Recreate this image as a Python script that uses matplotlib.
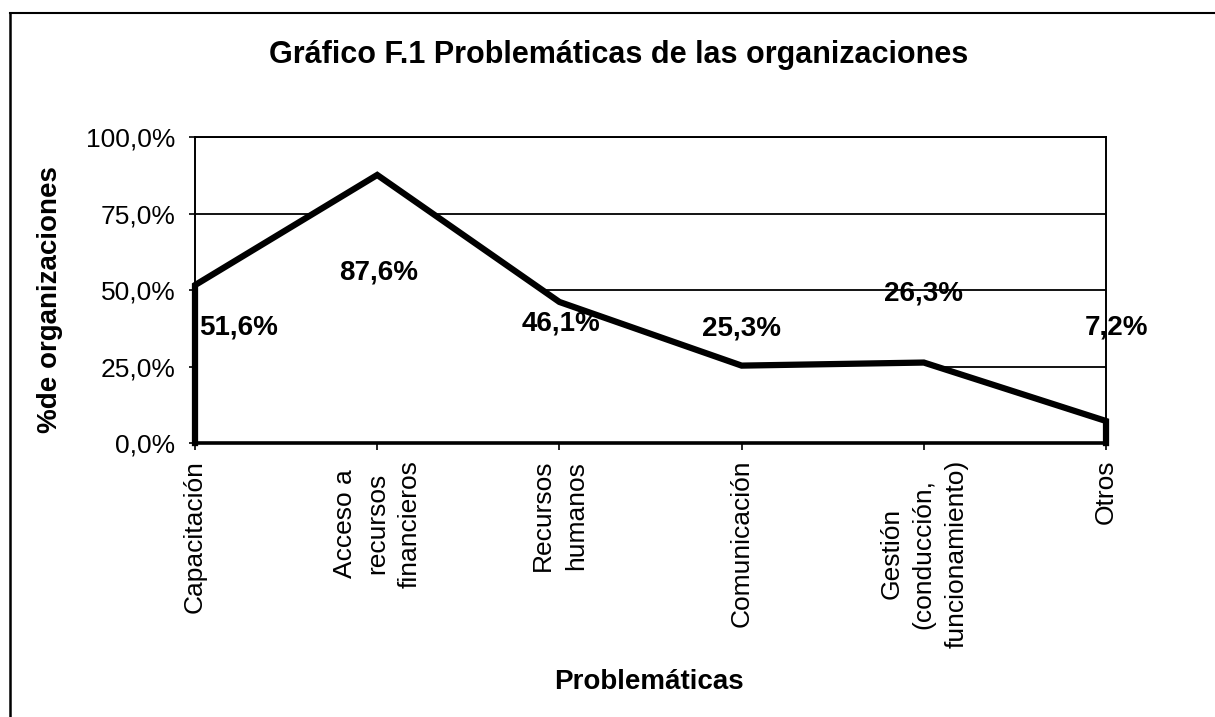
import matplotlib.pyplot as plt
import numpy as np
from matplotlib.lines import Line2D
from matplotlib.ticker import FuncFormatter

plt.rcParams['font.family'] = ['Liberation Sans', 'DejaVu Sans']

categorias = ['Capacitación', 'Acceso a\nrecursos\nfinancieros', 'Recursos\nhumanos',
              'Comunicación', 'Gestión\n(conducción,\nfuncionamiento)', 'Otros']
valores = [51.6, 87.6, 46.1, 25.3, 26.3, 7.2]
etiquetas = ['51,6%', '87,6%', '46,1%', '25,3%', '26,3%', '7,2%']
# where the labels sit in the original (x in category units, y in %)
pos_etiquetas = [(0.24, 37.6), (1.01, 55.6), (2.01, 39.2), (3.0, 37.3), (4.0, 49.0), (5.06, 37.6)]

fig = plt.figure(figsize=(12.15, 7.17), dpi=100)
ax = fig.add_axes([0.1605, 0.3821, 0.7498, 0.4268])

x = np.arange(len(valores))
ax.fill_between(x, valores, 0, facecolor='white', edgecolor='none', zorder=2)
# outline of the area: up the left edge, along the values, down the right edge
xs = np.concatenate([[x[0]], x, [x[-1]]])
ys = np.concatenate([[0], valores, [0]])
ax.plot(xs, ys, color='black', linewidth=4.5, solid_joinstyle='miter', clip_on=False, zorder=3)

for (px, py), t in zip(pos_etiquetas, etiquetas):
    ax.text(px, py, t, ha='center', va='center', fontsize=20, fontweight='bold', zorder=4)

ax.set_xlim(0, len(valores) - 1)
ax.set_ylim(0, 100)
ax.set_yticks([0, 25, 50, 75, 100])
ax.yaxis.set_major_formatter(FuncFormatter(lambda v, p: f'{v:.1f}%'.replace('.', ',')))
ax.yaxis.grid(True, color='black', linewidth=1.3)
ax.set_axisbelow(True)
ax.set_xticks(x)
ax.set_xticklabels(categorias, rotation=90, va='top', ha='center', multialignment='center',
                   fontsize=19, linespacing=1.45)
ax.tick_params(axis='y', labelsize=19, length=4, width=1.2, pad=10, direction='out')
ax.tick_params(axis='x', length=5, width=1.2, pad=7, direction='out')
for s in ax.spines.values():
    s.set_linewidth(1.4)
    s.set_color('black')
ax.spines['bottom'].set_linewidth(2.6)

fig.text(0.509, 0.923, 'Gráfico F.1 Problemáticas de las organizaciones', ha='center', va='center',
         fontsize=22, fontweight='bold')
fig.text(0.041, 0.582, '%de organizaciones', rotation=90, ha='center', va='center',
         fontsize=20, fontweight='bold')
fig.text(0.534, 0.049, 'Problemáticas', ha='center', va='center', fontsize=20, fontweight='bold')

# page frame of the scan
fig.add_artist(Line2D([10 / 1215, 1.0], [1 - 13 / 717, 1 - 13 / 717], color='black', linewidth=1.5))
fig.add_artist(Line2D([10 / 1215, 10 / 1215], [0, 1 - 13 / 717], color='black', linewidth=1.8))

fig.savefig('out.png', dpi=100)
